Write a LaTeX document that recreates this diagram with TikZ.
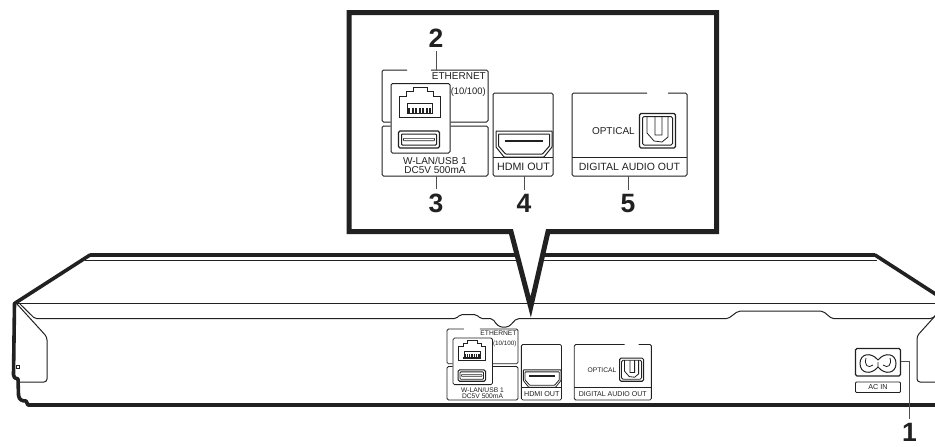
\documentclass[tikz,border=0pt]{standalone}
\usepackage{fontspec}
\setmainfont{Liberation Sans}
\definecolor{ink}{gray}{0.13}
\tikzset{
  x=1pt,y=-1pt,
  outerline/.style={draw=ink,line width=3.6pt,line join=round,line cap=round},
  bandline/.style={draw=ink,line width=4pt},
  thinline/.style={draw=ink,line width=1pt},
  pline/.style={draw=ink,line width=\plw pt,rounded corners=1.5pt},
  ptext/.style={text=ink,inner sep=0pt,font=\fontsize{#1}{#1}\selectfont,transform shape},
  ptext/.default=10,
  numlabel/.style={text=ink,inner sep=0pt,outer sep=4pt,font=\fontsize{26.5}{26.5}\selectfont\bfseries,anchor=base},
  leaderline/.style={draw=ink!80,line width=1pt},
  balloon/.style={draw=ink,fill=white,line width=5pt,line join=miter,miter limit=12},
}
\newcommand{\portpanel}[1]{%
  % Ethernet box
  \draw[pline] (407,70) -- (382,70) -- (382,122) -- (390.5,122);
  \draw[pline] (450.5,122) -- (488,122) -- (488,70) -- (431,70);
  % USB box
  \draw[pline] (390.5,126) -- (382,126) -- (382,176) -- (488,176) -- (488,126) -- (450.5,126);
  % port surround
  \draw[pline] (391,153) -- (391,83.5) -- (450,83.5) -- (450,153) -- cycle;
  % RJ45
  \draw[pline,rounded corners=0pt] (399.5,117) -- (399.5,96) -- (406,96) -- (406,91) -- (413,91) -- (413,87) -- (427,87) -- (427,91) -- (433,91) -- (433,96) -- (440,96) -- (440,117) -- cycle;
  \draw[draw=ink,line width=.5pt] (407,113) -- (407,103.5) -- (432,103.5) -- (432,113);
  \fill[ink] (406.5,112.5) rectangle (432.5,114.2);
  \foreach \q in {408,411.5,415,418.5,422,425.5,429}{\fill[ink] (\q,108) rectangle (\q+2,113);}
  % USB
  \draw[pline,line width=1.3*\plw pt] (398.5,131) rectangle (439.5,148);
  \draw[pline,rounded corners=.8pt] (401.5,134) rectangle (436.5,145);
  \draw[draw=ink,line width=.6pt,rounded corners=.5pt] (403.5,138.3) -- (434.5,138.3) -- (434.5,140.7) -- (403.5,140.7) -- cycle;
  % HDMI box
  \draw[pline] (493,157) -- (493,93) -- (553,93) -- (553,176) -- (493,176) -- cycle;
  \draw[pline,rounded corners=0pt] (493,157) -- (553,157);
  \draw[pline,rounded corners=.5pt] (496,131) -- (552,131) -- (552,147) -- (544,157) -- (504,157) -- (496,147) -- cycle;
  \draw[pline,rounded corners=.5pt] (498.5,134) -- (549.5,134) -- (549.5,146) -- (542.5,154) -- (505.5,154) -- (498.5,146) -- cycle;
  \draw[draw=ink,line width=2pt] (505,140.5) -- (543,140.5);
  % Digital box
  \draw[pline] (647,93) -- (572,93) -- (572,176) -- (687,176) -- (687,93) -- (668,93);
  \draw[pline,rounded corners=0pt] (572,157) -- (687,157);
  % Optical
  \draw[pline,line width=1.3*\plw pt] (639.5,113.5) rectangle (675.5,148);
  \draw[pline] (642.5,116.5) rectangle (672.5,145);
  \draw[draw=ink,line width=.8pt] (647,116.5) -- (647,133) -- (654,141) -- (662,142) -- (668,137) -- (668,116.5)
     (655,116.5) -- (655,135) -- (662,135) -- (662,116.5);
  % text
  \node[ptext,anchor=east] (#1eth) at (486,76.5) {ETHERNET};
  \node[ptext=9.4,anchor=east] (#1spd) at (486,92) {(10/100)};
  \node[ptext] (#1wlan) at (435,160.5) {W-LAN/USB 1};
  \node[ptext] (#1dc) at (435,170) {DC5V 500mA};
  \node[ptext=10.7] (#1hdmi) at (523.5,167) {HDMI OUT};
  \node[ptext=10.5] (#1dig) at (629.5,167) {DIGITAL AUDIO OUT};
  \node[ptext,anchor=east] (#1opt) at (635,131) {OPTICAL};
  % anchors for leaders
  \coordinate (#1a2) at (436,70);
  \coordinate (#1a3) at (436,176);
  \coordinate (#1a4) at (524,176);
  \coordinate (#1a5) at (628,176);
}
\begin{document}
\begin{tikzpicture}
\path[use as bounding box,clip] (0,0) rectangle (935,447);
\fill[white] (0,0) rectangle (935,447);
% device outline
\draw[outerline] (90,255) -- (14.5,303.5) -- (13.5,375) .. controls (13.5,378) and (15,378) .. (18,379) -- (18.5,395) .. controls (19,400) and (22,401) .. (26,401) -- (28,405) -- (940,405);
\draw[bandline] (90,255) -- (875,255);
\draw[outerline] (875,255) -- (940,297);
\draw[thinline] (85,260.5) -- (877,260.5);
\draw[thinline] (14,303) -- (935,303);
% ledge line with notches
\draw[thinline,rounded corners=2pt] (20,304) -- (35,318.7) -- (456,318.7) -- (460,314.7) -- (476.7,314.7) -- (480.7,318.7) -- (492.7,318.7)
   .. controls (496,324) and (499,327) .. (504,327) .. controls (510,327) and (513,322) .. (516.7,318.7)
   -- (728,318.7) -- (738,311.2) -- (823,311.2) -- (832,318.7) -- (932,318.7) -- (936,315);
% end caps
\draw[thinline,rounded corners=3pt] (17,304) -- (47,337) -- (47,382) -- (20,382);
\draw[thinline,rounded corners=3pt] (936,315) -- (917,336) -- (917,382) -- (936,382);
\draw[draw=ink,line width=.7pt] (16,365) rectangle (19.5,368);
% AC inlet
\draw[draw=ink,line width=1.2pt,rounded corners=1.5pt] (855.5,348.5) rectangle (900.5,376);
\draw[draw=ink,line width=1pt] (878,360) .. controls (871,351.5) and (860,353.5) .. (860,363.5) .. controls (860,373.5) and (871,375.5) .. (878,367)
   .. controls (885,375.5) and (896,373.5) .. (896,363.5) .. controls (896,353.5) and (885,351.5) .. (878,360) -- cycle;
\draw[draw=ink,line width=.8pt] (866,358) .. controls (864,365) and (868,369) .. (873,365)
   (890,358) .. controls (892,365) and (888,369) .. (883,365) (878,362) -- (878,367);
\draw[draw=ink,line width=.8pt,rounded corners=1pt] (855.5,382) rectangle (900.5,392.5);
\node[ptext=7.2] (acin) at (878,387.2) {AC IN};
% rear panel copy
\begin{scope}[shift={(191.06,282.1)},scale=.67]
  \def\plw{.8}
  \portpanel{s}
\end{scope}
% balloon
\draw[balloon] (349,12.5) -- (716.7,12.5) -- (716.7,231.7) -- (548,231.7) -- (530.7,307) -- (511,231.7) -- (349,231.7) -- cycle;
\def\plw{1}
\portpanel{m}
% numbers and leaders
\node[numlabel] (n2) at (436,47) {2};
\node[numlabel] (n3) at (436,212) {3};
\node[numlabel] (n4) at (524,212) {4};
\node[numlabel] (n5) at (628,212) {5};
\node[numlabel] (n1) at (909.5,441) {1};
\coordinate (ac) at (901,361);
\draw[leaderline] (n2.south) -- (ma2);
\draw[leaderline] (n3.north) -- (ma3);
\draw[leaderline] (n4.north) -- (ma4);
\draw[leaderline] (n5.north) -- (ma5);
\draw[leaderline] (n1.north) |- (ac);
\end{tikzpicture}
\end{document}
